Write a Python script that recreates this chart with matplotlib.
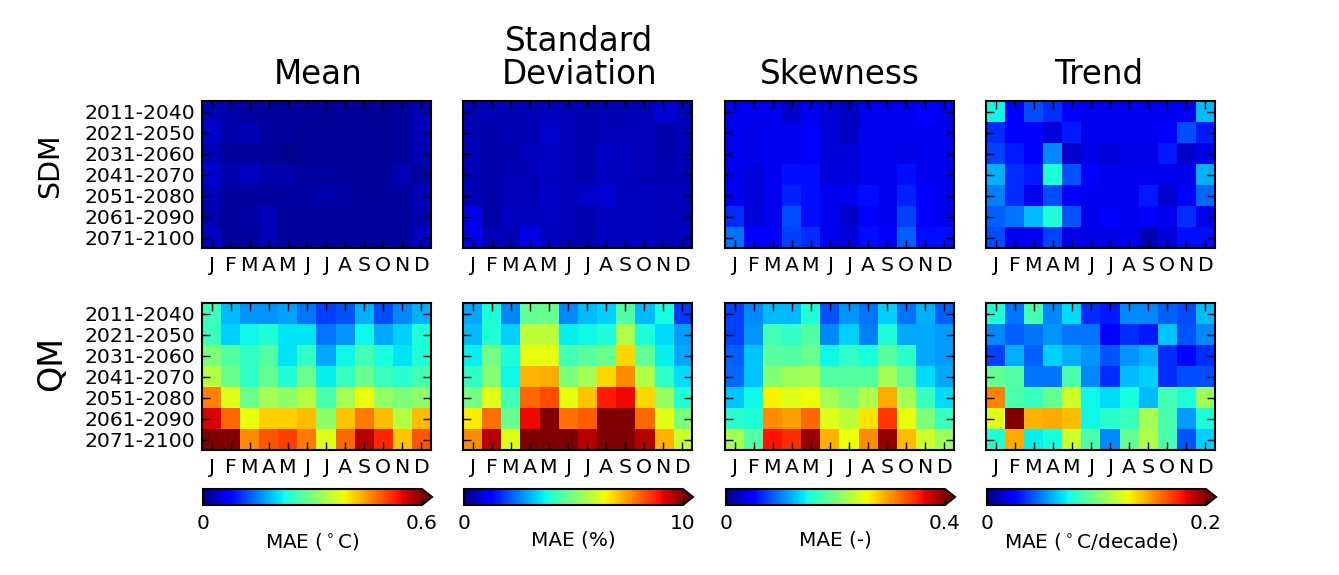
import numpy as np
from matplotlib import pyplot as plt
from matplotlib.cm import ScalarMappable
from matplotlib.colors import Normalize

months = ['J', 'F', 'M', 'A', 'M', 'J', 'J', 'A', 'S', 'O', 'N', 'D']
periods = ['2011-2040', '2021-2050', '2031-2060', '2041-2070',
           '2051-2080', '2061-2090', '2071-2100']
titles = ['Mean', 'Standard\nDeviation', 'Skewness', 'Trend']
methods = ['SDM', 'QM']
scale_max = [0.6, 10, 0.4, 0.2]
scale_tick_labels = ['0.6', '10', '0.4', '0.2']
scale_labels = ['MAE ($^\\circ$C)', 'MAE (%)', 'MAE (-)', 'MAE ($^\\circ$C/decade)']

# values, as a fraction of each colour bar's range
sdm_mean = [
    [.05, .04, .03, .03, .03, .03, .02, .03, .02, .02, .03, .05],
    [.07, .04, .05, .03, .03, .02, .02, .02, .02, .02, .03, .05],
    [.05, .03, .03, .03, .015, .02, .02, .025, .02, .02, .03, .05],
    [.07, .04, .06, .04, .04, .03, .03, .025, .02, .025, .05, .03],
    [.05, .03, .03, .03, .03, .035, .04, .035, .025, .03, .03, .05],
    [.04, .03, .035, .05, .03, .03, .03, .03, .03, .03, .03, .04],
    [.06, .03, .03, .05, .03, .03, .03, .03, .03, .03, .03, .06],
]
sdm_std = [
    [.05, .05, .05, .05, .055, .05, .04, .05, .05, .05, .08, .055],
    [.05, .04, .05, .045, .07, .05, .04, .05, .05, .05, .04, .05],
    [.05, .04, .04, .055, .06, .05, .045, .065, .055, .05, .04, .05],
    [.05, .04, .05, .05, .06, .05, .045, .055, .055, .05, .045, .045],
    [.05, .04, .05, .05, .065, .05, .065, .075, .055, .055, .05, .05],
    [.09, .035, .06, .06, .06, .05, .045, .055, .055, .055, .05, .05],
    [.09, .05, .05, .09, .06, .05, .045, .06, .06, .06, .05, .055],
]
sdm_skew = [
    [.10, .10, .10, .07, .10, .08, .06, .10, .10, .10, .12, .10],
    [.10, .09, .10, .10, .12, .08, .06, .10, .10, .10, .10, .10],
    [.10, .09, .10, .10, .12, .08, .08, .10, .10, .09, .10, .10],
    [.10, .08, .10, .14, .14, .08, .08, .10, .10, .14, .10, .10],
    [.10, .08, .10, .16, .14, .10, .10, .14, .10, .16, .11, .10],
    [.17, .08, .10, .20, .14, .10, .07, .11, .10, .19, .11, .10],
    [.24, .11, .12, .19, .17, .10, .08, .14, .12, .22, .14, .14],
]
sdm_trend = [
    [.37, .11, .20, .17, .11, .10, .10, .10, .10, .10, .10, .31],
    [.17, .11, .11, .08, .15, .10, .10, .10, .10, .11, .20, .15],
    [.19, .15, .11, .26, .07, .09, .08, .09, .09, .15, .07, .09],
    [.30, .17, .15, .39, .21, .12, .10, .10, .10, .10, .09, .30],
    [.25, .17, .10, .20, .11, .10, .10, .10, .15, .07, .11, .23],
    [.22, .24, .31, .39, .21, .10, .12, .10, .11, .10, .17, .10],
    [.20, .10, .10, .19, .09, .09, .09, .10, .05, .08, .14, .14],
]
qm_mean = [
    [.42, .31, .27, .27, .285, .24, .19, .21, .30, .20, .26, .30],
    [.42, .33, .37, .39, .35, .35, .24, .27, .37, .29, .33, .39],
    [.50, .45, .41, .45, .35, .41, .29, .37, .43, .38, .35, .39],
    [.57, .48, .41, .47, .39, .48, .36, .42, .48, .42, .40, .43],
    [.77, .62, .48, .55, .52, .57, .44, .55, .63, .53, .50, .52],
    [.92, .80, .63, .69, .69, .71, .52, .70, .78, .71, .57, .71],
    [1.0, 1.0, .76, .82, .84, .78, .62, .80, .95, .87, .70, .82],
]
qm_std = [
    [.29, .39, .26, .47, .48, .26, .31, .33, .45, .31, .38, .18],
    [.31, .39, .33, .58, .58, .36, .37, .39, .56, .39, .34, .28],
    [.36, .49, .39, .63, .63, .43, .46, .48, .68, .47, .36, .29],
    [.41, .51, .37, .72, .73, .50, .55, .68, .76, .57, .41, .34],
    [.49, .62, .43, .80, .83, .63, .70, .88, .90, .68, .53, .39],
    [.66, .79, .48, .90, 1.0, .79, .81, 1.0, 1.0, .80, .62, .50],
    [.76, .95, .62, 1.0, 1.0, 1.0, .95, 1.0, 1.0, .95, .72, .60],
]
qm_skew = [
    [.19, .26, .31, .31, .39, .21, .27, .24, .33, .24, .30, .22],
    [.19, .27, .43, .41, .45, .26, .33, .25, .39, .29, .29, .28],
    [.22, .32, .46, .45, .48, .37, .41, .38, .46, .40, .29, .28],
    [.23, .32, .51, .54, .55, .45, .45, .45, .55, .47, .34, .29],
    [.32, .37, .65, .62, .64, .55, .50, .56, .73, .55, .42, .34],
    [.40, .39, .76, .74, .80, .62, .58, .67, .85, .63, .50, .42],
    [.55, .45, .89, .86, .98, .72, .64, .76, .98, .71, .60, .54],
]
qm_trend = [
    [.39, .24, .43, .26, .34, .17, .15, .26, .26, .22, .20, .31],
    [.26, .22, .24, .27, .24, .24, .12, .17, .15, .32, .21, .26],
    [.19, .30, .22, .33, .30, .27, .21, .27, .30, .17, .13, .17],
    [.47, .45, .24, .24, .44, .26, .17, .31, .33, .17, .20, .20],
    [.77, .44, .42, .47, .60, .37, .34, .38, .31, .43, .39, .54],
    [.62, 1.0, .72, .73, .71, .37, .40, .42, .55, .44, .28, .39],
    [.39, .73, .36, .38, .60, .44, .26, .47, .56, .44, .21, .33],
]
panels = [[sdm_mean, sdm_std, sdm_skew, sdm_trend],
          [qm_mean, qm_std, qm_skew, qm_trend]]

W, H = 1339, 575
col_left = [202, 463, 725, 986]
row_top = [101, 303]
ax_w, ax_h = 229, 147
title_x = [0.508, 0.508, 0.5, 0.491]
method_pos = [(50, 166, 20.5), (52, 363.5, 24)]
label_x = [0.5, 0.5, 0.5, 0.477]


def px_axes(fig, left, top, width, height):
    return fig.add_axes([left / W, 1 - (top + height) / H, width / W, height / H])


fig = plt.figure(figsize=(W / 100, H / 100), dpi=100)

for r, top in enumerate(row_top):
    for c, left in enumerate(col_left):
        ax = px_axes(fig, left, top, ax_w, ax_h)
        values = np.array(panels[r][c]) * scale_max[c]
        ax.imshow(values, cmap='jet', vmin=0, vmax=scale_max[c], aspect='auto',
                  interpolation='nearest')
        ax.set_xticks(range(len(months)))
        ax.set_xticklabels(months, fontsize=14.7)
        ax.set_yticks(range(len(periods)))
        ax.set_yticklabels(periods if c == 0 else [], fontsize=14.7)
        ax.tick_params(direction='in', top=True, right=True, length=6, width=1,
                       color='black')
        ax.tick_params(axis='x', pad=6)
        ax.tick_params(axis='y', pad=4.5)
        for spine in ax.spines.values():
            spine.set_linewidth(1.5)
        if r == 0:
            ax.set_title(titles[c], fontsize=23.5, pad=12.5, linespacing=1.0,
                         x=title_x[c])
    x, y, size = method_pos[r]
    fig.text(x / W, 1 - y / H, methods[r], rotation=90, fontsize=size,
             ha='center', va='center')

for c, left in enumerate(col_left):
    cax = px_axes(fig, left + 1, 489, 229, 16)
    sm = ScalarMappable(norm=Normalize(0, scale_max[c]), cmap='jet')
    cb = fig.colorbar(sm, cax=cax, orientation='horizontal', extend='max',
                      extendfrac=0.046, ticks=[0, scale_max[c]])
    cb.ax.set_xticklabels(['0', scale_tick_labels[c]], fontsize=14.4)
    cb.ax.tick_params(direction='in', length=6, width=1, pad=6.5)
    cb.outline.set_linewidth(1.5)
    cb.ax.set_xlabel(scale_labels[c], fontsize=14.4, labelpad=-1.5, x=label_x[c])

plt.savefig('out.png', dpi=100)
